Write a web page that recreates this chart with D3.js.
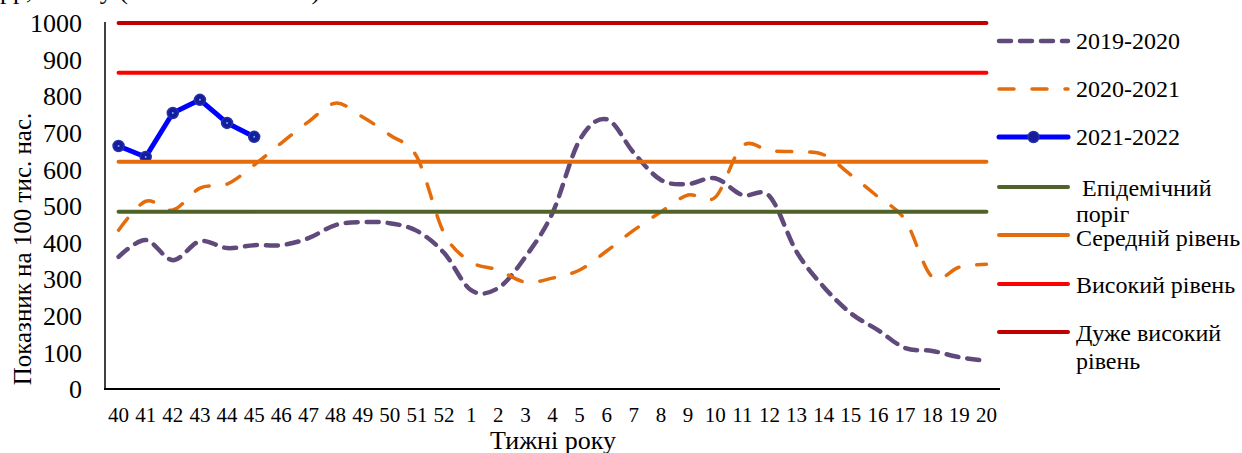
<!DOCTYPE html>
<html>
<head>
<meta charset="utf-8">
<script src="https://cdn.jsdelivr.net/npm/d3@7"></script>
<style>
  body { margin: 0; background: #fff; }
  svg text { font-family: "Times New Roman", "Liberation Serif", serif; }
</style>
</head>
<body>
<div id="chart"></div>
<script>
// weeks of the season, 40..52 then 1..20
var weeks = ["40","41","42","43","44","45","46","47","48","49","50","51","52",
  "1","2","3","4","5","6","7","8","9","10","11","12","13","14","15","16","17","18","19","20"];

var s2019 = [361,407,352,404,385,393,393,412,448,456,453,432,372,
  270,276,361,481,680,737,645,571,560,576,530,527,375,279,207,161,112,104,87,77];
var s2020 = [434,513,489,549,560,612,672,730,781,743,694,634,426,
  347,325,292,303,325,377,434,484,530,524,664,651,648,640,585,525,462,306,333,341];
var s2021 = [664,634,754,790,727,689];

var thresholds = [
  {name: "Епідемічний поріг", value: 484, color: "#4F6228"},
  {name: "Середній рівень", value: 621, color: "#E46C0A"},
  {name: "Високий рівень", value: 864, color: "#FF0000"},
  {name: "Дуже високий рівень", value: 1000, color: "#C00000"}
];
var yTicks = [0,100,200,300,400,500,600,700,800,900,1000];

var width = 1242, height = 453;
var svg = d3.select("#chart").append("svg")
  .attr("width", width)
  .attr("height", height);

var x = d3.scalePoint().domain(weeks).range([105, 1000]).padding(0.5);
var y = d3.scaleLinear().domain([0, 1000]).range([389, 23]);

// cut off caption line at the very top
svg.append("text")
  .attr("x", 0).attr("y", -1)
  .attr("font-size", 26)
  .text("рр, сезону (2019-2022 тижні)");

// axes
svg.append("line").attr("x1", 105).attr("x2", 105).attr("y1", 22).attr("y2", 389)
  .attr("stroke", "#000").attr("stroke-width", 1.5);
svg.append("line").attr("x1", 104).attr("x2", 1000).attr("y1", 389).attr("y2", 389)
  .attr("stroke", "#000").attr("stroke-width", 2);

svg.selectAll(".ytick").data(yTicks).enter().append("text")
  .attr("class", "ytick")
  .attr("x", 82)
  .attr("y", function(d){ return y(d); })
  .attr("dy", "0.35em")
  .attr("text-anchor", "end")
  .attr("font-size", 26)
  .text(function(d){ return d; });

svg.selectAll(".xtick").data(weeks).enter().append("text")
  .attr("class", "xtick")
  .attr("x", function(d){ return x(d); })
  .attr("y", 422)
  .attr("text-anchor", "middle")
  .attr("font-size", 21)
  .text(function(d){ return d; });

svg.append("text")
  .attr("x", 553).attr("y", 449)
  .attr("text-anchor", "middle")
  .attr("font-size", 26)
  .text("Тижні року");

svg.append("text")
  .attr("transform", "translate(31,249) rotate(-90)")
  .attr("text-anchor", "middle")
  .attr("font-size", 25)
  .text("Показник на 100 тис. нас.");

// data series
var smooth = d3.line()
  .x(function(d, i){ return x(weeks[i]); })
  .y(function(d){ return y(d); })
  .curve(d3.curveCatmullRom.alpha(0));

svg.append("path").datum(s2019)
  .attr("d", smooth)
  .attr("fill", "none")
  .attr("stroke", "#604A7B")
  .attr("stroke-width", 4.5)
  .attr("stroke-linecap", "round")
  .attr("stroke-dasharray", "12,9");

svg.append("path").datum(s2020)
  .attr("d", smooth)
  .attr("fill", "none")
  .attr("stroke", "#E46C0A")
  .attr("stroke-width", 3.5)
  .attr("stroke-linecap", "round")
  .attr("stroke-dasharray", "15,18");

var straight = d3.line()
  .x(function(d, i){ return x(weeks[i]); })
  .y(function(d){ return y(d); });

svg.append("path").datum(s2021)
  .attr("d", straight)
  .attr("fill", "none")
  .attr("stroke", "#0000FF")
  .attr("stroke-width", 5)
  .attr("stroke-linejoin", "round");

svg.selectAll(".mk").data(s2021).enter().append("circle")
  .attr("class", "mk")
  .attr("cx", function(d, i){ return x(weeks[i]); })
  .attr("cy", function(d){ return y(d); })
  .attr("r", 5.5)
  .attr("fill", "#1A1A9C")
  .attr("stroke", "#2233A8")
  .attr("stroke-width", 1.5);
svg.selectAll(".mkc").data(s2021).enter().append("circle")
  .attr("class", "mkc")
  .attr("cx", function(d, i){ return x(weeks[i]); })
  .attr("cy", function(d){ return y(d); })
  .attr("r", 1)
  .attr("fill", "#33CCFF");

// threshold lines
svg.selectAll(".thr").data(thresholds).enter().append("line")
  .attr("class", "thr")
  .attr("x1", x(weeks[0]))
  .attr("x2", x(weeks[weeks.length - 1]))
  .attr("y1", function(d){ return y(d.value); })
  .attr("y2", function(d){ return y(d.value); })
  .attr("stroke", function(d){ return d.color; })
  .attr("stroke-width", 4)
  .attr("stroke-linecap", "round");

// legend
var lg = svg.append("g").attr("font-size", 24);
var lx1 = 999, lx2 = 1068, tx = 1076;

function legendLine(yy, color, w, dash) {
  var l = lg.append("line")
    .attr("x1", lx1).attr("x2", lx2).attr("y1", yy).attr("y2", yy)
    .attr("stroke", color).attr("stroke-width", w)
    .attr("stroke-linecap", "round");
  if (dash) l.attr("stroke-dasharray", dash);
}
function legendText(yy, txt, dx) {
  lg.append("text").attr("x", tx + (dx || 0)).attr("y", yy)
    .attr("dy", "0.35em").text(txt);
}

legendLine(41, "#604A7B", 4.5, "12,9");
legendText(41, "2019-2020");
legendLine(89, "#E46C0A", 3.5, "15,18");
legendText(89, "2020-2021");
legendLine(137, "#0000FF", 5);
lg.append("circle").attr("cx", (lx1 + lx2) / 2).attr("cy", 137).attr("r", 5.5)
  .attr("fill", "#1A1A9C").attr("stroke", "#2233A8").attr("stroke-width", 1.5);
legendText(137, "2021-2022");

legendLine(187, thresholds[0].color, 4);
legendText(188, "Епідемічний", 6);
legendText(214, "поріг");
legendLine(235, thresholds[1].color, 4);
legendText(238, "Середній рівень");
legendLine(284, thresholds[2].color, 4);
legendText(285, "Високий рівень");
legendLine(332, thresholds[3].color, 4);
legendText(333, "Дуже високий");
legendText(361, "рівень");
</script>
</body>
</html>
